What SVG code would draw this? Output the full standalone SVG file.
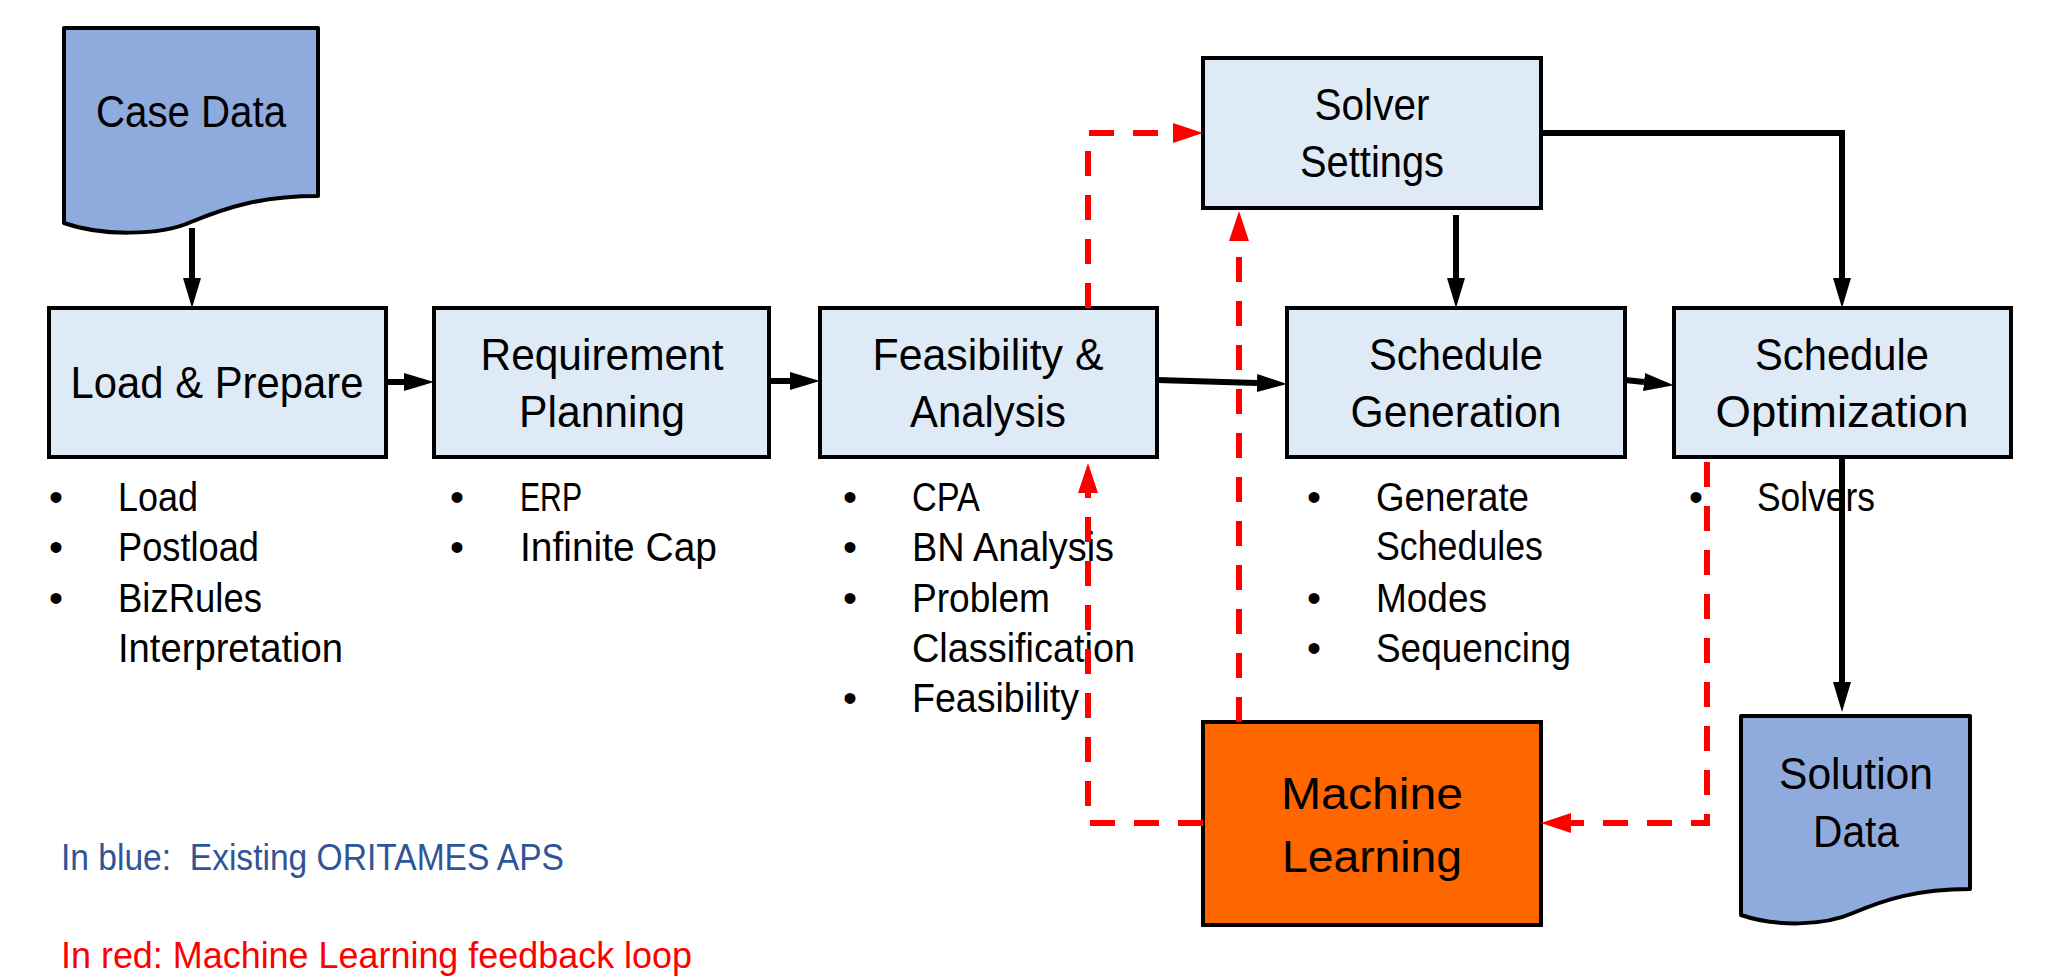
<svg xmlns="http://www.w3.org/2000/svg" width="2045" height="979" viewBox="0 0 2045 979">
<style>
  .box { fill: #DEEAF6; stroke: #000; stroke-width: 4; }
  .doc { fill: #8FAADC; stroke: #000; stroke-width: 4; stroke-linejoin: round; }
  .ml { fill: #FF6600; stroke: #000; stroke-width: 4; }
  .lbl { font-family: "Liberation Sans", Arial, sans-serif; font-size: 44px; fill: #000; text-anchor: middle; }
  .li { font-family: "Liberation Sans", Arial, sans-serif; font-size: 40px; fill: #000; }
  .bul { font-family: "Liberation Sans", Arial, sans-serif; font-size: 40px; fill: #000; text-anchor: middle; }
  .leg { font-family: "Liberation Sans", Arial, sans-serif; font-size: 36px; white-space: pre; }
  .blk { fill: none; stroke: #000; stroke-width: 6; marker-end: url(#ahB); }
  .red { fill: none; stroke: #FF0000; stroke-width: 6; stroke-dasharray: 25 19; marker-end: url(#ahR); }
</style>
<defs>
  <marker id="ahB" markerUnits="userSpaceOnUse" markerWidth="30" markerHeight="18" refX="0" refY="9" orient="auto">
    <path d="M0,0 L30,9 L0,18 Z" fill="#000"/>
  </marker>
  <marker id="ahR" markerUnits="userSpaceOnUse" markerWidth="30" markerHeight="20" refX="0" refY="10" orient="auto">
    <path d="M0,0 L30,10 L0,20 Z" fill="#FF0000"/>
  </marker>
</defs>
<rect width="2045" height="979" fill="#fff"/>

<g id="case-data">
  <path class="doc" d="M64,28 H318 V196 C260,196 225,208 191,222 C160,236 100,236 64,223 Z"/>
  <text class="lbl" x="191" y="127" textLength="190" lengthAdjust="spacingAndGlyphs">Case Data</text>
</g>

<g id="load-prepare">
  <rect class="box" x="49" y="308" width="337" height="149"/>
  <text class="lbl" x="217" y="398" textLength="293" lengthAdjust="spacingAndGlyphs">Load &amp; Prepare</text>
  <text class="bul" x="56" y="511">•</text>
  <text class="li" x="118" y="511" textLength="80" lengthAdjust="spacingAndGlyphs">Load</text>
  <text class="bul" x="56" y="561">•</text>
  <text class="li" x="118" y="561" textLength="141" lengthAdjust="spacingAndGlyphs">Postload</text>
  <text class="bul" x="56" y="612">•</text>
  <text class="li" x="118" y="612" textLength="144" lengthAdjust="spacingAndGlyphs">BizRules</text>
  <text class="li" x="118" y="662" textLength="225" lengthAdjust="spacingAndGlyphs">Interpretation</text>
</g>

<g id="requirement-planning">
  <rect class="box" x="434" y="308" width="335" height="149"/>
  <text class="lbl" x="602" y="370" textLength="243" lengthAdjust="spacingAndGlyphs">Requirement</text>
  <text class="lbl" x="602" y="427" textLength="166" lengthAdjust="spacingAndGlyphs">Planning</text>
  <text class="bul" x="457" y="511">•</text>
  <text class="li" x="520" y="511" textLength="62" lengthAdjust="spacingAndGlyphs">ERP</text>
  <text class="bul" x="457" y="561">•</text>
  <text class="li" x="520" y="561" textLength="197" lengthAdjust="spacingAndGlyphs">Infinite Cap</text>
</g>

<g id="feasibility-analysis">
  <rect class="box" x="820" y="308" width="337" height="149"/>
  <text class="lbl" x="988" y="370" textLength="231" lengthAdjust="spacingAndGlyphs">Feasibility &amp;</text>
  <text class="lbl" x="988" y="427" textLength="156" lengthAdjust="spacingAndGlyphs">Analysis</text>
  <text class="bul" x="850" y="511">•</text>
  <text class="li" x="912" y="511" textLength="68" lengthAdjust="spacingAndGlyphs">CPA</text>
  <text class="bul" x="850" y="561">•</text>
  <text class="li" x="912" y="561" textLength="202" lengthAdjust="spacingAndGlyphs">BN Analysis</text>
  <text class="bul" x="850" y="612">•</text>
  <text class="li" x="912" y="612" textLength="138" lengthAdjust="spacingAndGlyphs">Problem</text>
  <text class="li" x="912" y="662" textLength="223" lengthAdjust="spacingAndGlyphs">Classification</text>
  <text class="bul" x="850" y="712">•</text>
  <text class="li" x="912" y="712" textLength="167" lengthAdjust="spacingAndGlyphs">Feasibility</text>
</g>

<g id="solver-settings">
  <rect class="box" x="1203" y="58" width="338" height="150"/>
  <text class="lbl" x="1372" y="120" textLength="115" lengthAdjust="spacingAndGlyphs">Solver</text>
  <text class="lbl" x="1372" y="177" textLength="144" lengthAdjust="spacingAndGlyphs">Settings</text>
</g>

<g id="schedule-generation">
  <rect class="box" x="1287" y="308" width="338" height="149"/>
  <text class="lbl" x="1456" y="370" textLength="174" lengthAdjust="spacingAndGlyphs">Schedule</text>
  <text class="lbl" x="1456" y="427" textLength="211" lengthAdjust="spacingAndGlyphs">Generation</text>
  <text class="bul" x="1314" y="511">•</text>
  <text class="li" x="1376" y="511" textLength="153" lengthAdjust="spacingAndGlyphs">Generate</text>
  <text class="li" x="1376" y="560" textLength="167" lengthAdjust="spacingAndGlyphs">Schedules</text>
  <text class="bul" x="1314" y="612">•</text>
  <text class="li" x="1376" y="612" textLength="111" lengthAdjust="spacingAndGlyphs">Modes</text>
  <text class="bul" x="1314" y="662">•</text>
  <text class="li" x="1376" y="662" textLength="195" lengthAdjust="spacingAndGlyphs">Sequencing</text>
</g>

<g id="schedule-optimization">
  <rect class="box" x="1674" y="308" width="337" height="149"/>
  <text class="lbl" x="1842" y="370" textLength="174" lengthAdjust="spacingAndGlyphs">Schedule</text>
  <text class="lbl" x="1842" y="427" textLength="253" lengthAdjust="spacingAndGlyphs">Optimization</text>
  <text class="bul" x="1696" y="511">•</text>
  <text class="li" x="1757" y="511" textLength="118" lengthAdjust="spacingAndGlyphs">Solvers</text>
</g>

<g id="machine-learning">
  <rect class="ml" x="1203" y="722" width="338" height="203"/>
  <text class="lbl" x="1372" y="809" textLength="182" lengthAdjust="spacingAndGlyphs">Machine</text>
  <text class="lbl" x="1372" y="872" textLength="180" lengthAdjust="spacingAndGlyphs">Learning</text>
</g>

<g id="solution-data">
  <path class="doc" d="M1741,716 H1970 V889 C1916,889 1884,900 1853,913 C1824,926 1776,927 1741,915 Z"/>
  <text class="lbl" x="1856" y="789" textLength="154" lengthAdjust="spacingAndGlyphs">Solution</text>
  <text class="lbl" x="1856" y="847" textLength="86" lengthAdjust="spacingAndGlyphs">Data</text>
</g>

<g id="connectors">
  <path class="blk" d="M192,228 V278"/>
  <path class="blk" d="M386,382 H404"/>
  <path class="blk" d="M769,381 H790"/>
  <path class="blk" d="M1157,380 L1257,383"/>
  <path class="blk" d="M1625,380 L1644,382"/>
  <path class="blk" d="M1456,215 V278"/>
  <path class="blk" d="M1541,133 H1842 V278"/>
  <path class="blk" d="M1842,457 V682"/>
  <path class="red" d="M1088,308 V133 H1173"/>
  <path class="red" d="M1239,722 V241"/>
  <path class="red" d="M1203,823 H1088 V493"/>
  <path class="red" d="M1707,462 V823 H1571"/>
</g>

<g id="legend">
  <text class="leg" x="61" y="870" fill="#2F5597" textLength="503" lengthAdjust="spacingAndGlyphs">In blue:  Existing ORITAMES APS</text>
  <text class="leg" x="61" y="968" fill="#FF0000" textLength="631" lengthAdjust="spacingAndGlyphs">In red: Machine Learning feedback loop</text>
</g>
</svg>
